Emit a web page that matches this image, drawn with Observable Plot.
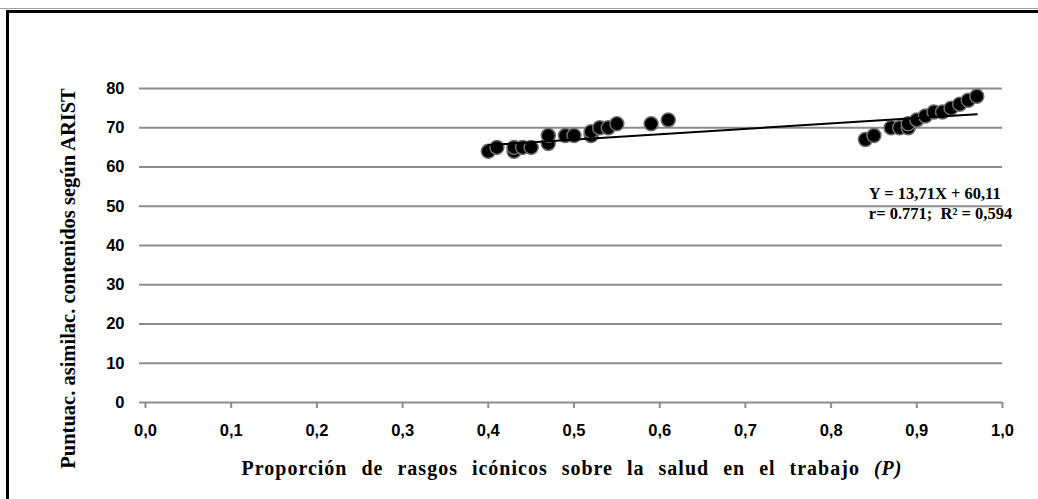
<!DOCTYPE html>
<html><head><meta charset="utf-8">
<script src="https://cdn.jsdelivr.net/npm/d3@7"></script>
<script src="https://cdn.jsdelivr.net/npm/@observablehq/plot@0.6"></script>
<style>
html,body{margin:0;padding:0;background:#fff;}
body{width:1038px;height:499px;overflow:hidden;position:relative;}
#topline{position:absolute;left:0;top:8px;width:1038px;height:1px;background:#a0a0a0;}
#frame{position:absolute;left:6px;top:10px;width:1100px;height:600px;border:3px solid #000;box-sizing:border-box;}
#chart{position:absolute;left:0;top:0;}
#xtitle{position:absolute;top:458px;left:572px;transform:translateX(-50%);white-space:nowrap;
  font-family:"Liberation Serif","Times New Roman",serif;font-weight:bold;font-size:20px;line-height:1;
  letter-spacing:1px;word-spacing:8px;color:#000;}
</style>
</head><body>
<div id="topline"></div>
<div id="frame"></div>
<div id="chart"></div>
<div id="xtitle">Proporción de rasgos icónicos sobre la salud en el trabajo <i>(P)</i></div>
<script>
// Data
const pX = [0.40,0.41,0.43,0.43,0.44,0.45,0.47,0.47,0.49,0.50,0.52,0.52,0.53,0.54,0.55,0.59,0.61,
            0.84,0.85,0.87,0.88,0.89,0.89,0.90,0.91,0.92,0.93,0.94,0.95,0.96,0.97];
const pY = [64,65,64,65,65,65,66,68,68,68,68,69,70,70,71,71,72,
            67,68,70,70,70,71,72,73,74,74,75,76,77,78];
const slope = 13.71;
const intercept = 60.11;
const xTicks = [0,0.1,0.2,0.3,0.4,0.5,0.6,0.7,0.8,0.9,1.0];
const yTicks = [0,10,20,30,40,50,60,70,80];
const xTitle = "Proporción de rasgos icónicos sobre la salud en el trabajo (P)";
const yTitle = "Puntuac. asimilac. contenidos según ARIST";
const eqLines = ["Y = 13,71X + 60,11", "r= 0.771;\u00a0 R² = 0,594"];

const points = pX.map((x, i) => ({x, y: pY[i]}));
const xMin = d3.min(pX), xMax = d3.max(pX);
const fitLine = [xMin, xMax].map(x => ({x, y: slope * x + intercept}));
const fmt = d => d.toFixed(1).replace(".", ",");
const grey = "#8c8c8c";

const chart = Plot.plot({
  width: 1038, height: 499,
  marginLeft: 145, marginRight: 36, marginTop: 88, marginBottom: 97,
  style: {background: "transparent", fontFamily: "'Liberation Sans', Arial, sans-serif", color: "#000"},
  x: {domain: [0, 1]},
  y: {domain: [0, 80]},
  marks: [
    Plot.ruleY(yTicks, {stroke: grey, strokeWidth: 2}),
    Plot.axisX(xTicks, {tickSize: 6, tickPadding: 16, stroke: grey, strokeWidth: 2, fill: "#000",
      tickFormat: fmt, fontSize: 16.5, fontWeight: "bold", label: null}),
    Plot.axisY(yTicks, {tickSize: 6, tickPadding: 15, stroke: grey, strokeWidth: 2, fill: "#000",
      fontSize: 16.5, fontWeight: "bold", label: null}),
    Plot.text([yTitle], {text: d => d, frameAnchor: "left", textAnchor: "middle", rotate: -90, dx: -77, dy: 33,
      fontFamily: "'Liberation Serif', 'Times New Roman', serif", fontWeight: "bold", fontSize: 20.5, fill: "#000"}),
    Plot.dot(points, {x: "x", y: "y", r: 7, fill: "#000", stroke: "#6e6e6e", strokeWidth: 1.5}),
    Plot.line(fitLine, {x: "x", y: "y", stroke: "#000", strokeWidth: 2}),
    Plot.text([eqLines.join("\n")], {text: d => d, x: () => 0.844, y: () => 50.9, textAnchor: "start",
      lineAnchor: "middle", lineHeight: 1.24,
      fontFamily: "'Liberation Serif', 'Times New Roman', serif", fontWeight: "bold", fontSize: 16.5, fill: "#000"})
  ]
});
document.getElementById("chart").appendChild(chart);
</script>
</body></html>
